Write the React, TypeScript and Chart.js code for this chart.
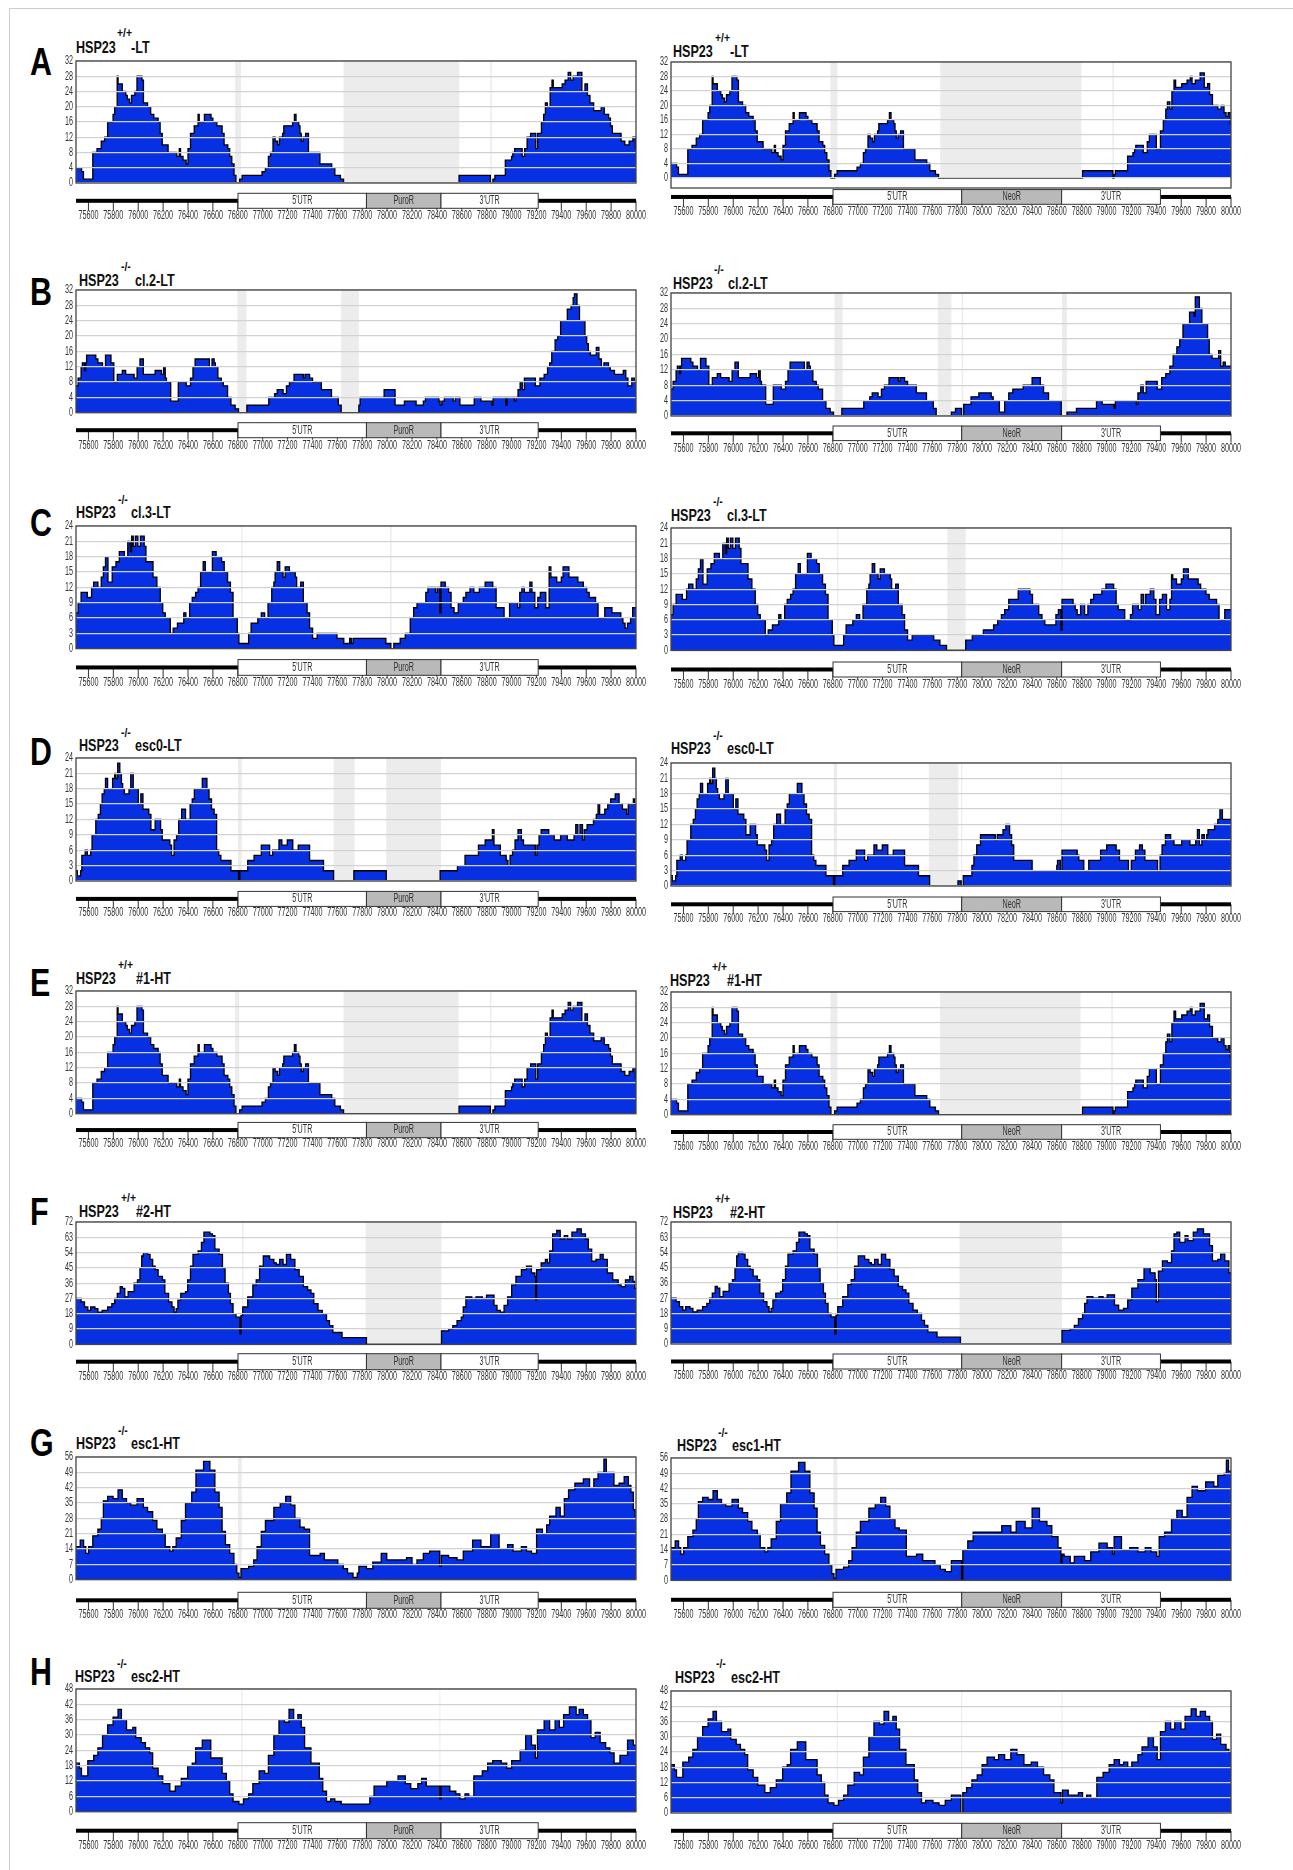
import React, { useEffect, useRef } from "react";
import { Chart, registerables } from "chart.js";

Chart.register(...registerables);

const FONT = '"Liberation Sans", Arial, sans-serif';
const LABEL_SQUEEZE = 0.6;

const X_TICKS = [75600,75800,76000,76200,76400,76600,76800,77000,77200,77400,77600,77800,78000,78200,78400,78600,78800,79000,79200,79400,79600,79800,80000];
const Y32 = [0,4,8,12,16,20,24,28,32];
const Y24 = [0,3,6,9,12,15,18,21,24];
const Y72 = [0,9,18,27,36,45,54,63,72];
const Y56 = [0,7,14,21,28,35,42,49,56];
const Y48 = [0,6,12,18,24,30,36,42,48];

const GENE_LEFT = [76802,77834,78433,79214];
const GENE_RIGHT = [76802,77836,78639,79433];

// Coverage runs: position, value, position, value ... (value holds from its position on)
const A_PRE = [75500,4,75545,3,75560,1,75635,8,75669,9,75703,11,75730,12,75754,16,75798,18,75811,20,75831,28,75838,26,75872,24,75900,23,75912,22,75930,21,75946,23,75973,24,75990,28,76030,27,76042,21,76075,20,76100,18,76125,17,76160,16,76176,13,76193,10,76240,8,76310,7,76330,9,76340,7,76360,6,76385,5,76400,9,76420,13,76450,15,76481,18,76490,16,76532,18,76585,17,76600,16,76632,15,76674,13,76690,10,76720,9,76735,7,76752,5,76770,2,76785,0,76815,1,76835,2,76995,3,77022,4,77046,7,77063,8,77083,12,77100,11,77120,10,77135,12,77160,13,77170,15,77240,16,77255,18,77268,16,77290,15,77300,13,77310,11,77325,12,77345,13,77368,8,77460,5,77555,4,77580,2,77625,1,77650,0];
const A_LEFT = [78578,2,78830,0,78850,1,78866,2,78950,6,79000,7,79010,8,79025,9,79085,7,79105,9,79125,12,79153,13,79195,9,79210,13,79240,16,79258,18,79272,21,79288,20,79310,25,79325,27,79335,25,79407,26,79430,27,79455,29,79475,27,79495,28,79530,29,79565,24,79590,26,79610,23,79630,21,79660,19,79720,20,79745,18,79780,17,79795,15,79810,13,79880,11,79910,10,79945,11,79975,12,79995,9];
const A_RIGHT = [78807,2,79051,0,79061,1,79071,2,79169,6,79212,7,79225,8,79235,9,79295,7,79327,10,79344,12,79400,8,79433,13,79456,16,79476,19,79489,21,79509,19,79525,24,79542,27,79555,25,79604,26,79647,27,79673,28,79687,26,79713,27,79752,29,79785,25,79812,26,79828,23,79851,20,79894,19,79921,20,79944,18,79960,17,79977,18,79993,15];

const B_PRE = [75500,7,75517,9,75541,12,75551,13,75568,11,75578,13,75585,15,75659,14,75676,13,75713,12,75737,15,75781,13,75804,8,75832,10,75872,11,75899,10,75967,9,75991,12,76014,14,76041,10,76136,11,76187,10,76204,12,76217,9,76227,8,76261,3,76322,8,76386,7,76420,9,76440,12,76457,14,76572,12,76593,14,76610,13,76620,12,76640,9,76667,8,76684,7,76718,4,76745,2,76779,1,76806,0,76873,2,77049,4,77097,5,77117,6,77164,5,77191,7,77215,8,77252,10,77327,9,77340,10,77377,9,77401,8,77472,6,77553,4,77608,2,77631,0];
const B_LEFT = [77773,2,77783,4,77976,6,78064,2,78139,3,78233,2,78291,3,78308,4,78416,3,78426,2,78440,3,78460,4,78531,3,78548,4,78585,2,78700,4,78754,3,78842,2,78852,4,78954,2,78964,4,79022,3,79035,4,79052,6,79069,8,79086,6,79103,9,79191,7,79228,9,79262,10,79289,12,79306,13,79323,16,79350,19,79370,20,79394,24,79448,27,79478,28,79495,30,79505,31,79526,28,79546,24,79590,20,79604,18,79617,16,79634,15,79681,17,79702,14,79722,12,79742,13,79779,12,79793,11,79827,10,79898,11,79918,9,79935,7,79966,9,79986,8];
const B_RIGHT = [77753,1,77786,2,77835,0,77852,3,77911,5,77974,6,78073,5,78089,4,78139,1,78181,4,78214,6,78247,7,78330,8,78402,10,78468,8,78494,6,78534,4,78636,0,78682,1,78758,2,78919,4,78965,3,79061,2,79071,4,79239,3,79252,6,79275,8,79295,6,79318,9,79407,7,79443,10,79476,11,79509,13,79535,16,79565,18,79588,20,79614,24,79667,27,79703,26,79713,31,79746,28,79766,24,79812,20,79825,16,79848,15,79901,17,79917,13,79937,14,79954,13];

const C_PRE = [75500,7,75517,9,75541,11,75591,10,75625,12,75642,13,75676,12,75703,14,75720,16,75737,18,75757,13,75791,16,75821,17,75848,19,75889,18,75916,21,75936,19,75947,22,75960,20,75977,22,75997,20,76018,22,76048,20,76062,17,76119,14,76150,12,76177,9,76197,7,76217,6,76258,3,76281,4,76315,5,76366,7,76383,6,76413,9,76434,10,76461,11,76481,12,76501,15,76522,17,76539,15,76596,19,76626,18,76670,17,76691,15,76718,13,76741,11,76762,6,76796,3,76809,1,76887,3,76907,5,76961,6,76989,7,77016,6,77043,9,77073,12,77090,13,77100,15,77117,17,77137,15,77164,14,77181,16,77215,15,77262,14,77273,12,77306,13,77327,9,77357,7,77377,4,77401,2,77438,3];
const C_LEFT = [77597,2,77652,1,77699,2,77712,1,77726,2,77990,1,78030,0,78054,1,78105,2,78146,3,78186,6,78213,8,78240,9,78311,11,78328,12,78389,11,78403,12,78423,7,78433,13,78467,12,78494,11,78514,8,78538,7,78572,9,78612,10,78633,11,78666,12,78697,11,78741,12,78788,13,78849,12,78876,8,78940,6,78984,9,79049,8,79066,11,79083,12,79103,11,79147,13,79164,11,79187,8,79211,10,79231,11,79275,8,79302,16,79316,14,79363,13,79400,14,79414,16,79461,14,79533,13,79577,12,79604,11,79624,10,79675,9,79695,6,79749,8,79807,7,79878,6,79895,5,79912,4,79932,5,79956,6,79973,8];
const C_RIGHT = [77611,2,77661,1,77714,0,77868,2,77921,3,78010,4,78092,5,78125,6,78155,7,78181,8,78214,10,78290,12,78385,11,78405,9,78455,7,78481,6,78504,5,78593,7,78613,8,78633,4,78642,10,78731,9,78748,8,78764,7,78791,9,78824,7,78850,9,78873,10,78896,11,78962,12,78995,13,79057,12,79077,9,79094,8,79146,6,79192,7,79209,9,79255,8,79278,11,79298,9,79314,11,79351,12,79380,10,79397,7,79426,10,79449,11,79482,8,79509,10,79522,15,79532,14,79562,13,79601,14,79618,16,79657,14,79736,13,79756,12,79799,11,79825,10,79884,9,79904,6,79950,8];

const D_PRE = [75500,2,75510,1,75537,2,75547,5,75574,6,75591,5,75618,6,75629,9,75659,12,75679,13,75696,15,75710,17,75727,18,75737,20,75754,18,75794,20,75811,21,75821,20,75835,23,75852,21,75865,19,75875,18,75889,17,75926,18,75940,21,75960,18,76001,15,76021,17,76038,14,76085,13,76102,10,76136,12,76180,10,76193,8,76254,7,76268,5,76288,8,76308,9,76325,12,76349,14,76380,12,76417,15,76434,16,76451,18,76515,20,76552,18,76569,16,76589,14,76610,13,76630,6,76647,5,76664,4,76745,2,76806,0,76816,2,76880,4,76931,5,76989,7,77056,5,77080,6,77131,8,77154,7,77198,8,77242,6,77286,7,77377,4,77489,2];
const D_LEFT = [77570,0,77733,2,77993,0,78426,2,78565,3,78626,5,78734,7,78788,8,78846,10,78859,7,78910,5,78957,4,78971,3,78988,5,79008,6,79028,8,79052,10,79079,8,79096,7,79191,5,79204,7,79221,9,79238,10,79299,9,79343,8,79394,9,79448,8,79502,9,79516,11,79533,9,79550,11,79570,8,79584,10,79607,11,79658,12,79681,13,79695,15,79708,13,79749,14,79773,15,79796,16,79833,17,79864,15,79891,14,79925,13,79938,15,79979,16,79989,15];
const D_RIGHT = [77578,0,77806,1,77832,0,77849,2,77918,4,77934,6,77957,8,77987,10,78106,9,78122,10,78168,11,78191,12,78221,10,78237,8,78254,5,78402,3,78600,4,78606,5,78629,3,78642,7,78764,6,78777,5,78817,3,78857,5,78952,7,79001,8,79077,7,79104,5,79176,3,79199,5,79232,7,79265,8,79288,7,79308,5,79410,3,79430,6,79446,8,79473,10,79515,9,79542,8,79604,9,79670,8,79716,9,79730,11,79746,8,79766,10,79786,9,79805,10,79815,11,79868,12,79894,13,79911,15,79931,13];

const F_PRE = [75500,27,75541,25,75568,22,75595,20,75618,22,75652,21,75676,19,75710,20,75754,22,75788,24,75811,27,75832,30,75855,34,75872,33,75892,28,75919,31,75967,36,75994,38,76014,45,76028,52,76041,54,76075,53,76095,50,76116,46,76136,44,76160,40,76194,38,76214,30,76244,25,76271,22,76288,19,76305,21,76319,26,76342,30,76380,31,76397,38,76420,46,76440,53,76481,55,76508,60,76528,66,76576,65,76596,64,76616,56,76650,53,76677,45,76698,36,76725,30,76741,24,76762,18,76786,16,76816,6,76826,17,76840,22,76880,28,76921,35,76948,38,76975,46,77005,52,77056,50,77090,48,77110,47,77137,50,77164,47,77191,53,77225,50,77259,44,77293,40,77327,34,77361,32,77388,30,77411,24,77445,20,77479,18,77513,14,77537,11,77564,7,77638,4];
const F_LEFT = [77834,0,78437,8,78494,9,78528,11,78562,14,78596,16,78612,22,78633,28,78680,27,78714,28,78765,27,78799,29,78859,23,78883,20,78910,19,78940,23,78968,28,79001,35,79035,40,79079,44,79120,46,79160,42,79187,40,79194,26,79201,44,79238,48,79272,50,79289,48,79306,55,79330,65,79363,67,79391,62,79424,64,79451,62,79485,66,79526,68,79560,65,79594,62,79617,56,79644,49,79678,50,79712,53,79736,50,79769,42,79813,38,79857,35,79881,34,79915,38,79949,40,79976,37,79989,33];
const F_RIGHT = [77826,0,78642,8,78708,9,78741,11,78774,15,78807,18,78824,24,78843,28,78890,27,78939,28,78972,27,79005,29,79064,23,79097,20,79137,21,79170,26,79203,33,79252,38,79301,45,79351,42,79390,38,79400,25,79417,43,79449,49,79489,48,79522,55,79542,65,79565,66,79588,60,79631,64,79654,61,79697,66,79730,68,79779,65,79828,58,79851,49,79894,50,79917,53,79950,49,79983,42];

const G_PRE = [75500,15,75534,18,75561,15,75578,12,75601,15,75635,20,75676,23,75703,28,75720,36,75754,38,75798,37,75838,41,75872,37,75906,35,75940,34,75991,37,76041,33,76075,31,76116,27,76150,23,76194,21,76217,15,76254,13,76278,15,76305,19,76346,27,76380,35,76430,40,76464,50,76525,54,76576,50,76616,40,76650,33,76674,22,76701,16,76735,12,76769,7,76792,3,76809,1,76826,5,76887,6,76928,9,76955,15,76989,22,77022,27,77090,33,77141,35,77185,38,77225,34,77259,28,77300,24,77334,23];
const G_LEFT = [77377,11,77462,12,77496,9,77604,7,77648,5,77682,3,77726,1,77760,3,77773,6,77834,5,77885,8,77953,12,77997,9,78156,10,78200,7,78240,9,78291,12,78342,13,78423,6,78436,11,78494,10,78562,9,78612,13,78687,18,78754,15,78832,21,78900,14,78968,16,79012,13,79079,15,79120,13,79160,12,79201,23,79248,21,79282,25,79306,29,79357,33,79391,29,79424,37,79458,41,79509,44,79577,46,79627,42,79661,46,79695,49,79742,55,79762,49,79823,43,79864,44,79905,47,79938,43,79959,40,79979,32,79993,29];
const G_RIGHT = [77391,11,77473,12,77523,9,77621,7,77664,5,77704,4,77753,9,77835,0,77845,14,77885,18,77928,22,78158,25,78231,22,78274,27,78346,24,78402,33,78461,27,78521,25,78560,20,78610,15,78633,8,78642,12,78659,11,78708,8,78741,11,78824,9,78873,13,78939,17,79005,15,79048,12,79061,20,79120,14,79186,15,79252,13,79311,15,79357,13,79403,11,79423,20,79466,22,79522,28,79565,32,79608,29,79647,38,79687,43,79730,41,79796,45,79862,43,79894,48,79944,49,79963,55,79980,50];

const H_PRE = [75500,19,75527,17,75544,14,75595,20,75642,22,75676,25,75713,30,75754,34,75798,37,75838,40,75865,36,75906,32,75957,33,75980,29,76024,27,76058,25,76092,23,76116,17,76160,14,76197,11,76254,8,76298,10,76346,13,76397,18,76434,19,76461,25,76515,28,76583,21,76674,15,76708,12,76735,7,76762,4,76809,3,76846,5,76887,7,76921,11,76972,16,77016,15,77046,22,77090,30,77131,36,77175,35,77212,40,77249,36,77283,38,77310,33,77337,25,77388,19,77455,13,77483,8,77513,4];
const H_LEFT = [77547,5,77580,4,77631,3,77861,6,77895,10,77997,12,78088,14,78146,11,78190,9,78247,11,78277,13,78315,10,78423,5,78433,10,78504,8,78552,7,78585,5,78626,7,78656,6,78697,14,78765,16,78808,19,78849,20,78917,19,78961,17,79001,20,79069,24,79113,30,79160,26,79191,21,79208,32,79262,36,79306,32,79350,36,79384,33,79418,38,79465,41,79519,38,79543,40,79577,38,79611,36,79638,29,79672,31,79712,27,79756,25,79790,23,79824,19,79871,22,79932,28,79979,26];
const H_RIGHT = [77546,5,77605,4,77654,3,77704,5,77753,7,77829,0,77845,8,77875,10,77918,13,77961,15,78000,19,78040,22,78099,21,78132,23,78181,21,78231,25,78280,23,78336,19,78395,20,78445,18,78494,15,78544,13,78577,8,78633,4,78646,9,78692,7,78774,8,78807,6,78840,7,78873,6,78922,14,78972,16,79021,19,79061,21,79104,19,79137,20,79170,18,79203,20,79252,23,79285,26,79334,30,79377,26,79407,21,79433,32,79473,36,79515,33,79548,36,79598,33,79631,38,79680,41,79720,38,79753,40,79795,38,79828,36,79851,29,79884,31,79917,27,79960,25,79983,24];

// Grey unmapped bands: [from, to]
const GAP_AL = [[76778,76826],[77650,78580],[78830,78842]];
const GAP_AR = [[76781,76837],[77664,78797],[79047,79058]];
const GAP_BL = [[76796,76870],[77631,77773]];
const GAP_BR = [[76814,76880],[77644,77753],[77836,77848],[78642,78682]];
const GAP_CL = [[76828,76838],[78024,78036]];
const GAP_CR = [[76835,76845],[77720,77868],[78638,78646]];
const GAP_DL = [[76802,76832],[77570,77739],[77993,78433]];
const GAP_DR = [[76808,76834],[77572,77809],[77830,77840],[78632,78640]];
const GAP_EL = [[76778,76812],[77650,78575],[78826,78838]];
const GAP_ER = [[76781,76837],[77661,78791],[79038,79050]];
const GAP_FL = [[76835,76845],[77827,78436]];
const GAP_FR = [[76832,76842],[77819,78642]];
const GAP_GL = [[76802,76832]];
const GAP_GR = [[76805,76837]];
const GAP_HL = [[76828,76838],[78420,78428]];
const GAP_HR = [[76832,76842],[77831,77840],[78638,78646]];

const PANELS = [
  { letter:"A", letterY:61.7, col:0, sup:"+/+", tail:"-LT", ticks:Y32, pre:A_PRE, post:A_LEFT, gaps:GAP_AL, top:60.7, zero:182.7, bottom:182.7, g0:193, g1:208, label:215, tx:75.8, ty:48, sx:117, sy:33, rx:131 },
  { col:1, sup:"+/+", tail:"-LT", ticks:Y32, pre:A_PRE, post:A_RIGHT, gaps:GAP_AR, top:61.7, zero:177.7, bottom:187.7, g0:189.3, g1:204, label:211, tx:673.4, ty:51.7, sx:714.8, sy:37.7, rx:730 },
  { letter:"B", letterY:291.7, col:0, sup:"-/-", tail:"cl.2-LT", ticks:Y32, pre:B_PRE, post:B_LEFT, gaps:GAP_BL, top:290, zero:412.7, bottom:412.7, g0:422.7, g1:437.7, label:445.7, tx:78.7, ty:280.7, sx:121, sy:267, rx:134.7 },
  { col:1, sup:"-/-", tail:"cl.2-LT", ticks:Y32, pre:B_PRE, post:B_RIGHT, gaps:GAP_BR, top:292.7, zero:415.7, bottom:415.7, g0:425.7, g1:440.3, label:447.7, tx:673.4, ty:284, sx:714.3, sy:270, rx:727.9 },
  { letter:"C", letterY:522.7, col:0, sup:"-/-", tail:"cl.3-LT", ticks:Y24, pre:C_PRE, post:C_LEFT, gaps:GAP_CL, top:525.7, zero:648.3, bottom:648.3, g0:659.3, g1:675, label:682, tx:75.8, ty:513, sx:118, sy:500, rx:131 },
  { col:1, sup:"-/-", tail:"cl.3-LT", ticks:Y24, pre:C_PRE, post:C_RIGHT, gaps:GAP_CR, top:528.3, zero:650.7, bottom:650.7, g0:662.3, g1:677.3, label:684.3, tx:671, ty:515.7, sx:712.7, sy:501.7, rx:726.6 },
  { letter:"D", letterY:751.7, col:0, sup:"-/-", tail:"esc0-LT", ticks:Y24, pre:D_PRE, post:D_LEFT, gaps:GAP_DL, top:758.3, zero:881.3, bottom:881.3, g0:891.7, g1:906.7, label:913, tx:78.7, ty:746, sx:121, sy:732.7, rx:134.7 },
  { col:1, sup:"-/-", tail:"esc0-LT", ticks:Y24, pre:D_PRE, post:D_RIGHT, gaps:GAP_DR, top:762.7, zero:885.7, bottom:885.7, g0:896.7, g1:911.3, label:917.7, tx:671, ty:749, sx:712.7, sy:735.7, rx:726.6 },
  { letter:"E", letterY:982.7, col:0, sup:"+/+", tail:"#1-HT", ticks:Y32, pre:A_PRE, post:A_LEFT, gaps:GAP_EL, top:991.3, zero:1114, bottom:1114, g0:1122.7, g1:1138, label:1144, tx:75.8, ty:979, sx:118, sy:965, rx:136 },
  { col:1, sup:"+/+", tail:"#1-HT", ticks:Y32, pre:A_PRE, post:A_RIGHT, gaps:GAP_ER, top:992, zero:1114.7, bottom:1114.7, g0:1124.7, g1:1139.3, label:1146, tx:669.7, ty:980.7, sx:711.5, sy:966.7, rx:726.6 },
  { letter:"F", letterY:1211.7, col:0, sup:"+/+", tail:"#2-HT", ticks:Y72, pre:F_PRE, post:F_LEFT, gaps:GAP_FL, top:1222.3, zero:1344.7, bottom:1344.7, g0:1354, g1:1370, label:1376.7, tx:78.7, ty:1211.7, sx:121, sy:1198, rx:136 },
  { col:1, sup:"+/+", tail:"#2-HT", ticks:Y72, pre:F_PRE, post:F_RIGHT, gaps:GAP_FR, top:1222.3, zero:1344.3, bottom:1344.3, g0:1354.3, g1:1369.3, label:1376, tx:673.4, ty:1212.7, sx:714.8, sy:1199, rx:730 },
  { letter:"G", letterY:1443, col:0, sup:"-/-", tail:"esc1-HT", ticks:Y56, pre:G_PRE, post:G_LEFT, gaps:GAP_GL, top:1456.7, zero:1579.3, bottom:1579.3, g0:1592, g1:1608, label:1614, tx:75.8, ty:1444, sx:118, sy:1430.7, rx:131 },
  { col:1, sup:"-/-", tail:"esc1-HT", ticks:Y56, pre:G_PRE, post:G_RIGHT, gaps:GAP_GR, top:1458, zero:1580.3, bottom:1580.3, g0:1592.3, g1:1607.3, label:1614, tx:677, ty:1446, sx:718.4, sy:1432.7, rx:732 },
  { letter:"H", letterY:1672, col:0, sup:"-/-", tail:"esc2-HT", ticks:Y48, pre:H_PRE, post:H_LEFT, gaps:GAP_HL, top:1689.3, zero:1812, bottom:1812, g0:1823, g1:1839, label:1845.7, tx:75, ty:1677.3, sx:116.6, sy:1664, rx:130.5 },
  { col:1, sup:"-/-", tail:"esc2-HT", ticks:Y48, pre:H_PRE, post:H_RIGHT, gaps:GAP_HR, top:1690.7, zero:1812.7, bottom:1812.7, g0:1823, g1:1838, label:1845, tx:675.4, ty:1677.7, sx:716.4, sy:1664.3, rx:730.7 },
];

const X_MIN = 75500;
const X_MAX = 80000;
const PLOT_LEFT = [75.8, 671];
const PLOT_WIDTH = 560;
const Y_W = 26;
const R_PAD = 16;
const T_PAD = 8;

function toPoints(pre: number[], post: number[]) {
  const flat = [...pre, ...post];
  const pts: { x: number; y: number }[] = [];
  for (let i = 0; i < flat.length; i += 2) pts.push({ x: flat[i], y: flat[i + 1] });
  pts.push({ x: X_MAX, y: flat[flat.length - 1] });
  return pts;
}

function Panel({ p }: { p: any }) {
  const ref = useRef<HTMLCanvasElement>(null);
  const left = PLOT_LEFT[p.col] - Y_W;
  const top = p.top - T_PAD;
  const plotH = p.bottom - p.top;
  const height = Math.ceil(p.label + 10 - top);
  const width = Y_W + PLOT_WIDTH + R_PAD;
  const yMax = p.ticks[p.ticks.length - 1];
  const yMin = p.bottom > p.zero ? (-yMax * (p.bottom - p.zero)) / (p.zero - p.top) : 0;
  const gene = p.col === 0 ? GENE_LEFT : GENE_RIGHT;
  const middle = p.col === 0 ? "PuroR" : "NeoR";
  useEffect(() => {
    const panelPlugin = {
      id: "panelParts",
      beforeDraw(chart: any) {
        // The reference's labels are horizontally condensed: condense every canvas text.
        const ctx = chart.ctx;
        if (!ctx.__condensed) {
          const draw = ctx.fillText.bind(ctx);
          ctx.fillText = (t: string, x: number, y: number) => draw(t, x, y, ctx.measureText(t).width * LABEL_SQUEEZE);
          ctx.__condensed = true;
        }
      },
      beforeDatasetsDraw(chart: any) {
        const { ctx, scales } = chart;
        const y0 = scales.y.getPixelForValue(0);
        const yT = chart.chartArea.top;
        ctx.save();
        ctx.fillStyle = "#ececec";
        p.gaps.forEach(([a, b]: number[]) => {
          const xa = scales.x.getPixelForValue(a);
          const xb = scales.x.getPixelForValue(b);
          ctx.fillRect(xa, yT, xb - xa, y0 - yT);
        });
        ctx.restore();
      },
      afterDraw(chart: any) {
        const { ctx, chartArea: ca, scales } = chart;
        const x = scales.x;
        ctx.save();
        ctx.strokeStyle = "#444";
        ctx.lineWidth = 1.3;
        ctx.strokeRect(ca.left, ca.top, ca.right - ca.left, ca.bottom - ca.top);
        const off = -top;
        const g0 = p.g0 + off;
        const g1 = p.g1 + off;
        const mid = (g0 + g1) / 2;
        ctx.strokeStyle = "#333";
        ctx.lineWidth = 1;
        X_TICKS.forEach((v) => {
          const px = x.getPixelForValue(v);
          ctx.beginPath();
          ctx.moveTo(px, mid);
          ctx.lineTo(px, g1 + 2);
          ctx.stroke();
        });
        ctx.fillStyle = "#000";
        ctx.fillRect(x.getPixelForValue(X_MIN), mid - 2, PLOT_WIDTH, 4);
        const names = ["5'UTR", middle, "3'UTR"];
        const fills = ["#fff", "#b9b9b9", "#fff"];
        ctx.font = `12px ${FONT}`;
        ctx.textAlign = "center";
        ctx.textBaseline = "middle";
        names.forEach((n, i) => {
          const a = x.getPixelForValue(gene[i]);
          const b = x.getPixelForValue(gene[i + 1]);
          ctx.fillStyle = fills[i];
          ctx.fillRect(a, g0, b - a, g1 - g0);
          ctx.strokeStyle = "#333";
          ctx.lineWidth = 1;
          ctx.strokeRect(a, g0, b - a, g1 - g0);
          ctx.fillStyle = "#333";
          ctx.fillText(n, (a + b) / 2, mid);
        });
        ctx.restore();
      },
    };
    const chart = new Chart(ref.current as HTMLCanvasElement, {
      type: "line",
      data: {
        datasets: [
          {
            data: toPoints(p.pre, p.post),
            stepped: true,
            borderColor: "#000",
            borderWidth: 1.3,
            backgroundColor: "#0630e2",
            fill: { value: 0 },
            pointRadius: 0,
          },
        ],
      },
      options: {
        animation: false,
        responsive: false,
        maintainAspectRatio: false,
        events: [],
        layout: { padding: { top: T_PAD, right: R_PAD, left: 0, bottom: 0 } },
        plugins: { legend: { display: false }, tooltip: { enabled: false }, title: { display: false } },
        scales: {
          x: {
            type: "linear",
            min: X_MIN,
            max: X_MAX,
            grid: { display: false, drawTicks: false },
            border: { display: false },
            afterBuildTicks(s: any) {
              s.ticks = X_TICKS.map((value) => ({ value }));
            },
            afterFit(s: any) {
              s.height = height - T_PAD - plotH;
              s.paddingLeft = 0;
              s.paddingRight = 0;
            },
            ticks: {
              autoSkip: false,
              maxRotation: 0,
              minRotation: 0,
              padding: p.label - p.bottom - 7,
              color: "#333",
              font: { family: FONT, size: 12 },
              callback: (v: any) => String(v),
            },
          },
          y: {
            min: yMin,
            max: yMax,
            grid: { color: "#d2d2d2", lineWidth: 1.3, z: 1, drawTicks: false },
            border: { display: false },
            afterBuildTicks(s: any) {
              s.ticks = p.ticks.map((value: number) => ({ value }));
            },
            afterFit(s: any) {
              s.width = Y_W;
              s.paddingTop = 0;
              s.paddingBottom = 0;
            },
            ticks: {
              autoSkip: false,
              padding: 3,
              color: "#333",
              font: { family: FONT, size: 12 },
              callback: (v: any) => String(v),
            },
          },
        },
      },
      plugins: [panelPlugin],
    } as any);
    return () => chart.destroy();
  }, []);
  const abs: React.CSSProperties = { position: "absolute", whiteSpace: "nowrap", fontFamily: FONT, color: "#111", transformOrigin: "left center" };
  return (
    <>
      {p.letter && (
        <div style={{ ...abs, left: 30, top: p.letterY - 22, fontSize: 38, fontWeight: 700, lineHeight: "44px", color: "#000", transform: "scaleX(0.8)" }}>{p.letter}</div>
      )}
      <div style={{ ...abs, left: p.tx, top: p.ty - 10, fontSize: 17, fontWeight: 700, lineHeight: "20px", transform: "scaleX(0.74)" }}>HSP23</div>
      <div style={{ ...abs, left: p.sx, top: p.sy - 8, fontSize: 13, fontWeight: 700, lineHeight: "16px", transform: "scaleX(0.8)" }}>{p.sup}</div>
      <div style={{ ...abs, left: p.rx, top: p.ty - 10, fontSize: 17, fontWeight: 700, lineHeight: "20px", transform: "scaleX(0.74)" }}>{p.tail}</div>
      <canvas ref={ref} width={width} height={height} style={{ position: "absolute", left, top, width, height }} />
    </>
  );
}

export default function App() {
  return (
    <div style={{ position: "absolute", left: 0, top: 0, width: 1293, height: 1870, overflow: "hidden", background: "#fff" }}>
      <div style={{ position: "absolute", left: 9, top: 8, width: 1284, height: 1862, borderTop: "1.5px solid #ccc", borderLeft: "1.5px solid #ccc" }} />
      {PANELS.map((p, i) => (
        <Panel key={i} p={p} />
      ))}
    </div>
  );
}
